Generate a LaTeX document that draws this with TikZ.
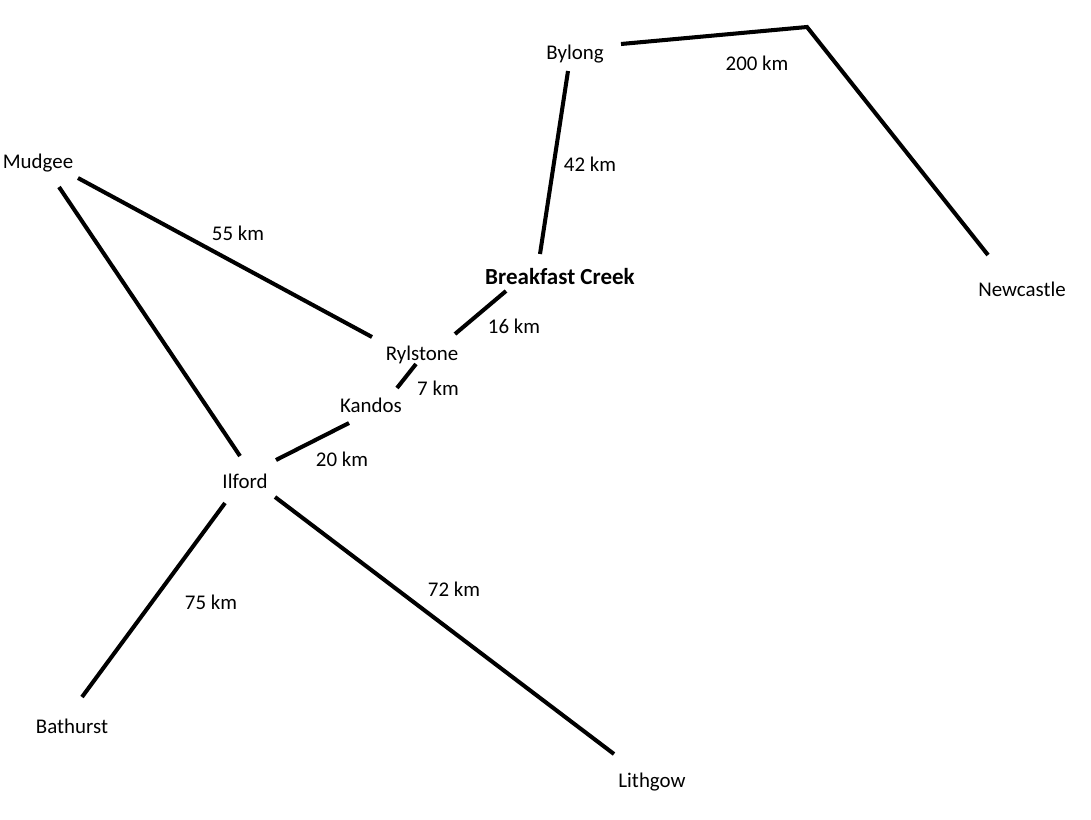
\documentclass[tikz,border=0pt]{standalone}
\usepackage{fontspec}
\setmainfont{Carlito}
\usetikzlibrary{positioning, calc}
\tikzset{
    town/.style={inner sep=0pt, text height=10pt, text depth=1.2pt, font=\fontsize{11.9}{14}\selectfont},
    dist/.style={inner sep=0pt, text height=10pt, text depth=1.2pt, font=\fontsize{11.9}{14}\selectfont},
    road/.style={line width=2.3pt, black}
}

\begin{document}
\begin{tikzpicture}[x=0.02cm, y=-0.02cm]
    \useasboundingbox (0,0) rectangle (1091,819);

    % Towns
    \node[town] (bylong) at (575,52) {Bylong};
    \node[town] (newcastle) at (1022,289) {Newcastle};
    \node[town] (mudgee) at (38,161) {Mudgee};
    \node[town, font=\fontsize{13.1}{15}\selectfont\bfseries] (creek) at (560,277) {Breakfast Creek};
    \node[town] (rylstone) at (422,353) {Rylstone};
    \node[town] (kandos) at (371,405) {Kandos};
    \node[town] (ilford) at (245,481) {Ilford};
    \node[town] (bathurst) at (72,726) {Bathurst};
    \node[town] (lithgow) at (652,780) {Lithgow};
    \coordinate (bend) at (807,27);

    % Roads
    \draw[road] ([shift={(46,-8)}]bylong.center) -- (bend) -- ([shift={(-34,-34)}]newcastle.center);
    \draw[road] ([shift={(-7,19)}]bylong.center) -- ([shift={(-20,-23)}]creek.center);
    \draw[road] ([shift={(-54,14)}]creek.center) -- ([shift={(33,-19)}]rylstone.center);
    \draw[road] ([shift={(40,17)}]mudgee.center) -- ([shift={(-50,-16)}]rylstone.center);
    \draw[road] ([shift={(-6,11)}]rylstone.center) -- ([shift={(26,-17)}]kandos.center);
    \draw[road] ([shift={(-22,18)}]kandos.center) -- ([shift={(31,-21)}]ilford.center);
    \draw[road] ([shift={(21,26)}]mudgee.center) -- ([shift={(-5,-25)}]ilford.center);
    \draw[road] ([shift={(-20,22)}]ilford.center) -- ([shift={(10,-29)}]bathurst.center);
    \draw[road] ([shift={(30,16)}]ilford.center) -- ([shift={(-38,-26)}]lithgow.center);

    % Distances
    \node[dist] (d200) at (757,63) {200 km};
    \node[dist] (d42) at (590,164) {42 km};
    \node[dist] (d55) at (238,233) {55 km};
    \node[dist] (d16) at (514,326) {16 km};
    \node[dist] (d7) at (438,388) {7 km};
    \node[dist] (d20) at (342,459) {20 km};
    \node[dist] (d72) at (454,589) {72 km};
    \node[dist] (d75) at (211,602) {75 km};
\end{tikzpicture}
\end{document}
